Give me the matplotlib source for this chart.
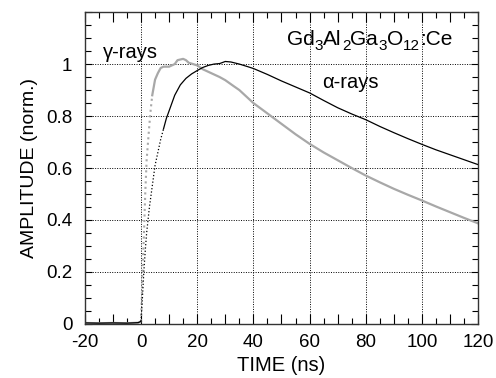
import numpy as np
import matplotlib
matplotlib.use("Agg")
import matplotlib.pyplot as plt
from matplotlib.ticker import MultipleLocator, FuncFormatter

plt.rcParams['font.family'] = ['Liberation Sans', 'DejaVu Sans']

# alpha-rays (black)
t_alpha = [-20, -15, -10, -5, -1, 0, 0.5, 1, 1.5, 2, 2.5, 3, 4, 5, 6, 7, 8,
           9, 10, 12, 14, 16, 18, 20, 22, 24, 26, 28, 30, 32, 35, 38, 40, 45,
           50, 55, 60, 65, 70, 75, 80, 85, 90, 95, 100, 105, 110, 115, 120]
a_alpha = [0.004, 0.003, 0.004, 0.003, 0.005, 0.01, 0.1, 0.2, 0.28, 0.35, 0.4,
           0.45, 0.53, 0.61, 0.66, 0.71, 0.75, 0.79, 0.82, 0.88, 0.92, 0.945,
           0.962, 0.975, 0.987, 0.995, 1.0, 1.002, 1.01, 1.008, 1.0, 0.99,
           0.983, 0.96, 0.935, 0.912, 0.889, 0.86, 0.832, 0.808, 0.786, 0.76,
           0.736, 0.713, 0.691, 0.67, 0.651, 0.632, 0.613]
n_rise_alpha = 17  # points drawn dotted (fast rise)

# gamma-rays (grey)
t_gamma = [-20, -15, -10, -5, -1, 0, 0.3, 0.5, 1, 1.5, 2, 2.5, 3, 3.5, 4, 5,
           6, 7, 8, 10, 11, 12, 13, 15, 16, 17, 20, 22, 25, 28, 30, 33, 35,
           38, 40, 45, 50, 55, 60, 65, 70, 75, 80, 85, 90, 95, 100, 105, 110,
           115, 120]
a_gamma = [0.004, 0.003, 0.004, 0.003, 0.005, 0.01, 0.1, 0.2, 0.33, 0.5, 0.63,
           0.7, 0.77, 0.83, 0.88, 0.94, 0.965, 0.985, 0.99, 0.99, 0.995, 1.0,
           1.015, 1.02, 1.015, 1.005, 0.995, 0.98, 0.965, 0.95, 0.938, 0.915,
           0.9, 0.87, 0.85, 0.81, 0.77, 0.73, 0.693, 0.66, 0.63, 0.6, 0.571,
           0.545, 0.52, 0.497, 0.475, 0.452, 0.43, 0.408, 0.387]
n_rise_gamma = 15

# formula pieces: (text, is_subscript)
formula = [('Gd', False), ('3', True), ('Al', False), ('2', True), ('Ga', False),
           ('3', True), ('O', False), ('12', True), (':Ce', False)]

fig = plt.figure(figsize=(4.96, 3.78), dpi=100)
ax = fig.add_axes([0.171, 0.143, 0.793, 0.825])

grey = '#a8a8a8'
ax.plot(t_gamma[:6], a_gamma[:6], color=grey, lw=1.5)
ax.plot(t_gamma[5:n_rise_gamma], a_gamma[5:n_rise_gamma], color=grey, lw=1.5, ls=':')
ax.plot(t_gamma[n_rise_gamma - 1:], a_gamma[n_rise_gamma - 1:], color=grey, lw=1.6)

ax.plot(t_alpha[:6], a_alpha[:6], color='black', lw=0.9)
ax.plot(t_alpha[5:n_rise_alpha], a_alpha[5:n_rise_alpha], color='black', lw=0.9, ls=':')
ax.plot(t_alpha[n_rise_alpha - 1:], a_alpha[n_rise_alpha - 1:], color='black', lw=0.9)

ax.set_xlim(-20, 120)
ax.set_ylim(0, 1.2)

ax.xaxis.set_major_locator(MultipleLocator(10))
ax.xaxis.set_minor_locator(MultipleLocator(5))
ax.xaxis.set_major_formatter(FuncFormatter(lambda v, p: '%d' % v if round(v) % 20 == 0 else ''))
ax.yaxis.set_major_locator(MultipleLocator(0.2))
ax.yaxis.set_minor_locator(MultipleLocator(0.05))
ax.yaxis.set_major_formatter(FuncFormatter(lambda v, p: '%g' % round(v, 1) if v < 1.1 else ''))

ax.tick_params(which='both', direction='in', top=True, right=True, labelsize=13.5)
ax.tick_params(which='major', length=7, width=0.8)
ax.tick_params(which='minor', length=4, width=0.8)
ax.tick_params(axis='y', which='major', length=5, pad=9)
ax.tick_params(axis='x', which='major', pad=7)

ax.grid(True, which='major', color='black', ls=(0, (1, 1.5)), lw=0.7)
for tick, loc in zip(ax.xaxis.get_major_ticks(), ax.xaxis.get_majorticklocs()):
    tick.gridline.set_visible(round(loc) % 20 == 0)
for tick, loc in zip(ax.yaxis.get_major_ticks(), ax.yaxis.get_majorticklocs()):
    tick.gridline.set_visible(0 < loc < 1.1)

for s in ax.spines.values():
    s.set_linewidth(1.0)
    s.set_color('#333333')

ax.set_xlabel('TIME (ns)', fontsize=14.5, labelpad=4)
ax.set_ylabel('AMPLITUDE (norm.)', fontsize=14, labelpad=6)

ax.text(-13.5, 1.045, 'γ-rays', fontsize=14.5, va='center', ha='left')
ax.text(64.5, 0.93, 'α-rays', fontsize=14.5, va='center', ha='left')

# chemical formula, written piece by piece so subscripts sit right
prev = ax.text(52.0, 1.075, formula[0][0], fontsize=15, va='baseline', ha='left')
prev_sub = False
for txt, sub in formula[1:]:
    if sub:
        dy = -3.5 if not prev_sub else 0
        size = 11
    else:
        dy = 3.5 if prev_sub else 0
        size = 15
    prev = ax.annotate(txt, xy=(1, 0), xycoords=prev, xytext=(0, dy),
                       textcoords='offset points', fontsize=size,
                       va='bottom', ha='left')
    prev_sub = sub

fig.savefig('out.png', dpi=100)
